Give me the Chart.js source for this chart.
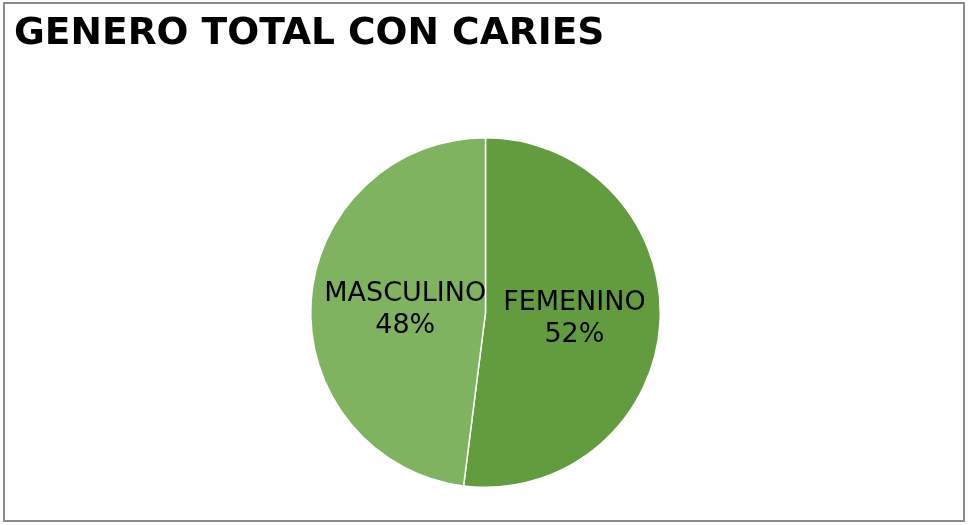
<!DOCTYPE html>
<html>
<head>
<meta charset="utf-8">
<script src="https://cdn.jsdelivr.net/npm/chart.js@4/dist/chart.umd.min.js"></script>
<style>
    html, body { margin: 0; padding: 0; background: #ffffff; }
    #container {
        position: absolute;
        left: 3px;
        top: 2px;
        width: 962px;
        height: 520px;
        border: 2px solid #8c8c8c;
        box-sizing: border-box;
        background: #ffffff;
    }
</style>
</head>
<body>
<div id="container"><canvas id="myChart"></canvas></div>
<script>
const chartTitle = 'GENERO TOTAL CON CARIES';
const labels = ['FEMENINO', 'MASCULINO'];
const values = [52, 48];
const colors = ['#629c3f', '#7fb35f'];

// draws the title in the top left corner
const titlePlugin = {
    id: 'cornerTitle',
    afterDraw: function (chart, args, opts) {
        var ctx = chart.ctx;
        ctx.save();
        ctx.fillStyle = '#000000';
        ctx.font = 'bold 37.6px "DejaVu Sans"';
        ctx.textBaseline = 'alphabetic';
        ctx.textAlign = 'left';
        ctx.fillText(opts.text, 9, 40);
        ctx.restore();
    }
};

// writes category name and percentage inside each slice
const sliceLabels = {
    id: 'sliceLabels',
    afterDatasetsDraw: function (chart, args, opts) {
        var ctx = chart.ctx;
        var meta = chart.getDatasetMeta(0);
        var data = chart.data.datasets[0].data;
        var total = data.reduce(function (a, b) { return a + b; }, 0);
        ctx.save();
        ctx.fillStyle = '#000000';
        ctx.font = '27px "DejaVu Sans"';
        ctx.textAlign = 'center';
        ctx.textBaseline = 'middle';
        meta.data.forEach(function (arc, i) {
            var mid = (arc.startAngle + arc.endAngle) / 2;
            var r = arc.outerRadius * opts.radius[i];
            var x = arc.x + Math.cos(mid) * r;
            var y = arc.y + Math.sin(mid) * r + opts.shift[i];
            var pct = Math.round(data[i] / total * 100) + '%';
            ctx.fillText(chart.data.labels[i], x, y - 16);
            ctx.fillText(pct, x, y + 16);
        });
        ctx.restore();
    }
};

new Chart(document.getElementById('myChart'), {
    type: 'pie',
    data: {
        labels: labels,
        datasets: [{
            data: values,
            backgroundColor: colors,
            borderColor: '#ffffff',
            borderWidth: 1.5
        }]
    },
    options: {
        responsive: true,
        maintainAspectRatio: false,
        animation: false,
        layout: {
            padding: { top: 133, bottom: 32, left: 3, right: 0 }
        },
        plugins: {
            legend: { display: false },
            tooltip: { enabled: false },
            cornerTitle: { text: chartTitle },
            sliceLabels: { radius: [0.51, 0.46], shift: [1, 3] }
        }
    },
    plugins: [titlePlugin, sliceLabels]
});
</script>
</body>
</html>
